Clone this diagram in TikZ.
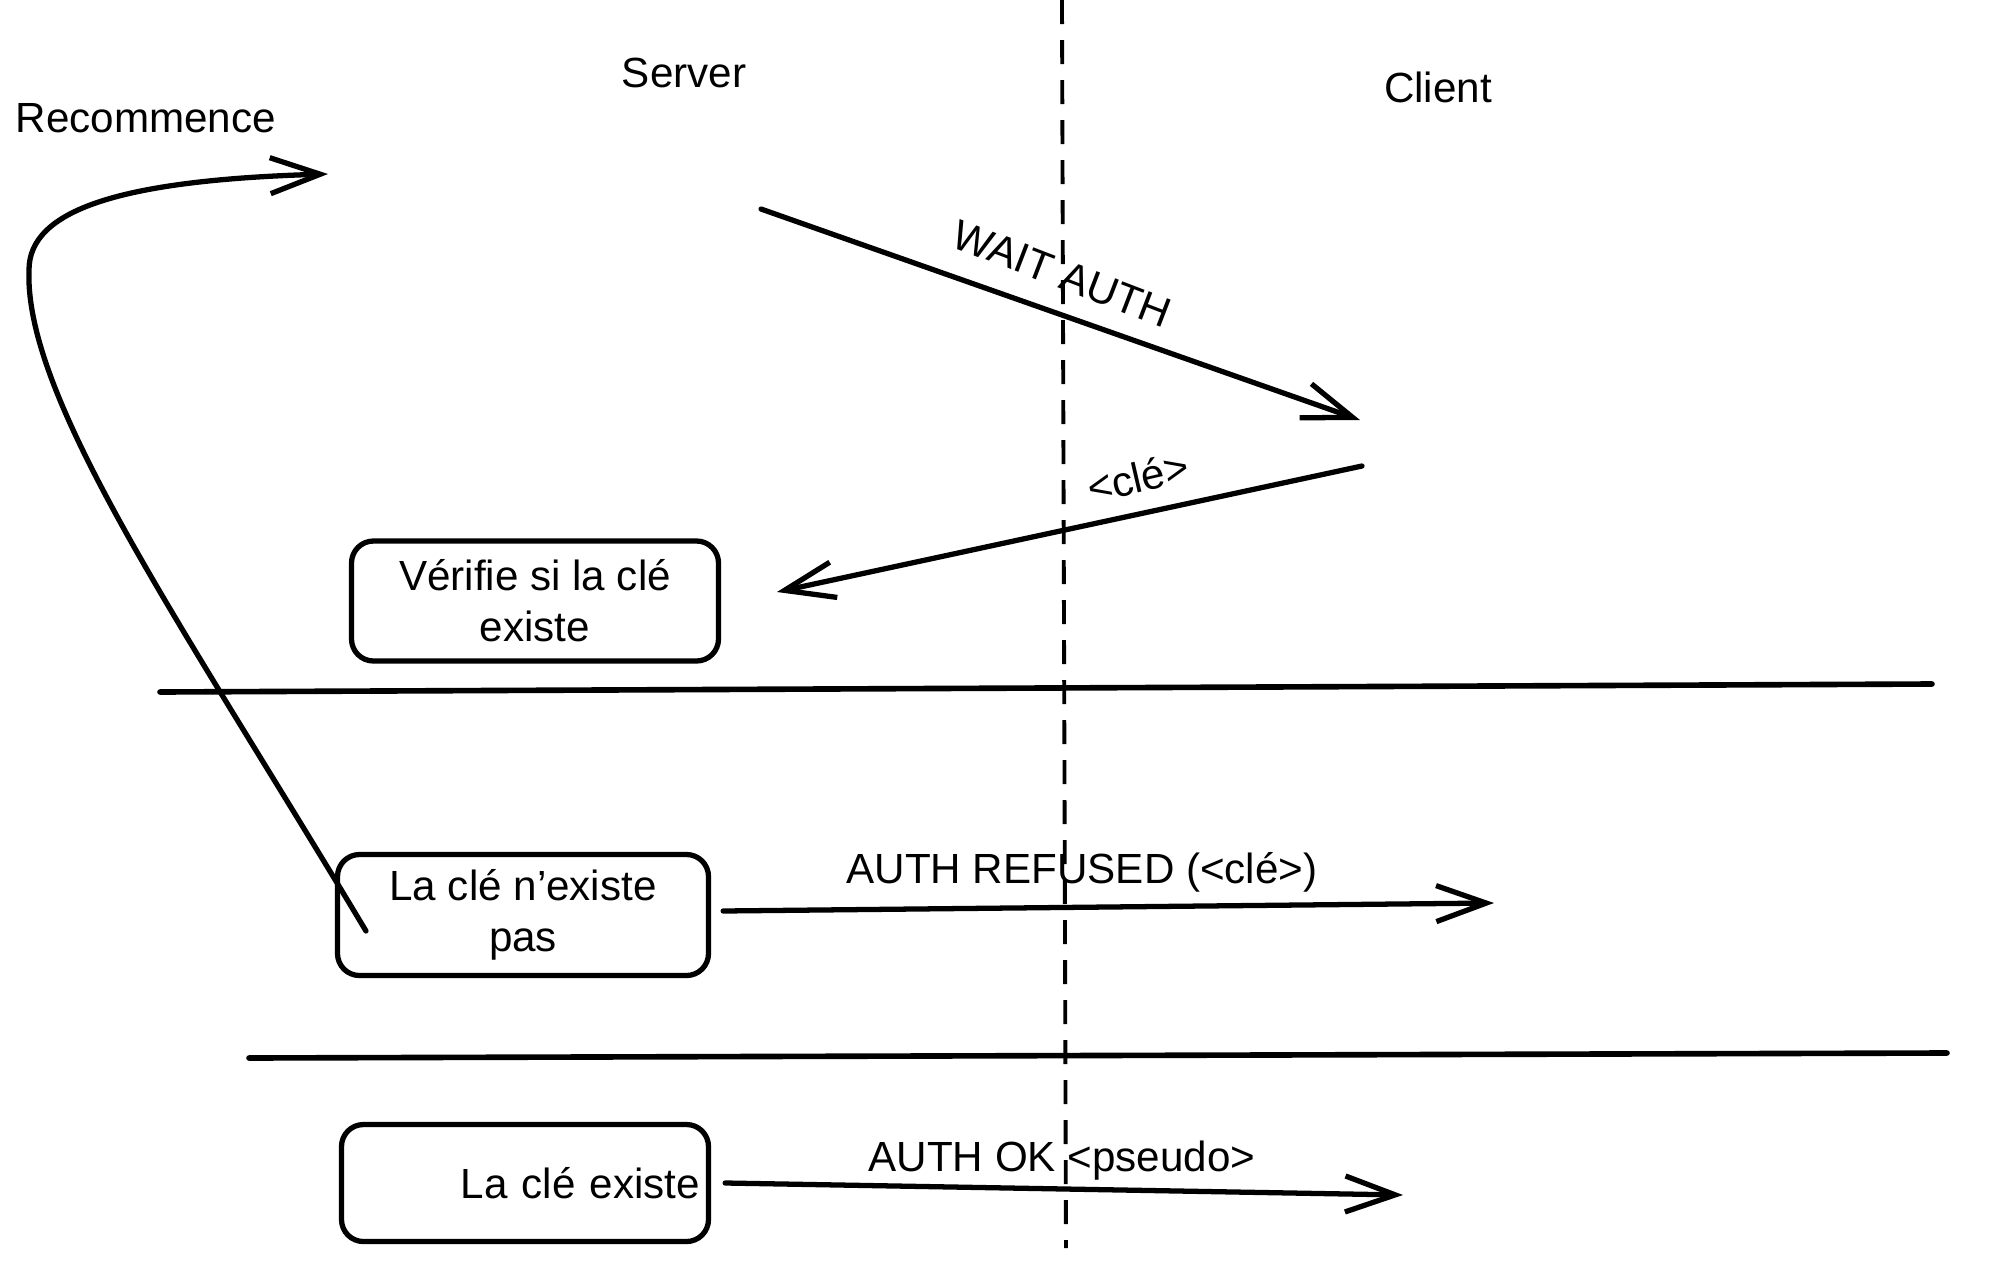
\documentclass[tikz,border=0pt]{standalone}
\usepackage{fontspec}
\setmainfont{Liberation Sans}
\usetikzlibrary{arrows.meta}

\begin{document}
\begin{tikzpicture}[scale=0.2]
            \tikzstyle{every node}+=[inner sep=0pt, font=\fontsize{12}{14.5}\selectfont]
            \tikzstyle{box}=[draw=black, line width=1.5pt, rounded corners=2.2mm, align=center]
            \tikzstyle{msg}=[draw=black, line width=1.5pt, line cap=round, -{Straight Barb[length=5mm,width=3.6mm]}]
            \tikzstyle{lane}=[draw=black, line width=1.6pt, line cap=round]
            \useasboundingbox (0,0) rectangle (100.3,-63.1);
            % titres
            \node (server) at (34.2,-3.65) {Server};
            \node (client) at (71.9,-4.35) {Client};
            \node [anchor=west] (recommence) at (0.75,-5.9) {Recommence};
            % separation server / client
            \coordinate (septop) at (53.1,0);
            \coordinate (sepbot) at (53.3,-62.4);
            \draw [black, line width=1.1pt, dash pattern=on 2.4mm off 1.6mm] (septop) -- (sepbot);
            % boites
            \node [box, minimum width=3.67cm, minimum height=1.2cm] (verif) at (26.75,-30.05) {V\'erifie si la cl\'e\\existe};
            \node [box, minimum width=3.71cm, minimum height=1.21cm] (noexist) at (26.15,-45.75) {La cl\'e n'existe\\pas};
            \node [box, minimum height=1.17cm, text width=3.5cm, inner xsep=0.085cm, align=right] (exist) at (26.25,-59.15) {La cl\'e existe};
            % lignes
            \coordinate (l1a) at (8,-34.6);
            \coordinate (l1b) at (96.6,-34.2);
            \draw [lane] (l1a) -- (l1b);
            \coordinate (l2a) at (12.45,-52.9);
            \coordinate (l2b) at (97.35,-52.65);
            \draw [lane] (l2a) -- (l2b);
            % messages
            \coordinate (wait0) at (38.05,-10.45);
            \coordinate (wait1) at (68,-21);
            \draw [msg] (wait0) -- (wait1);
            \node [rotate=-21] (lwait) at (53.1,-13.7) {WAIT AUTH};
            \coordinate (key0) at (68.1,-23.3);
            \coordinate (key1) at (38.85,-29.6);
            \draw [msg] (key0) -- (key1);
            \node [rotate=13] (lkey) at (56.9,-23.85) {<cl\'e>};
            \coordinate (ref1) at (74.7,-45.15);
            \draw [msg] (noexist.east) ++(0.6,0.2) -- (ref1);
            \node (lref) at (54.1,-43.6) {AUTH REFUSED (<cl\'e>)};
            \coordinate (ok1) at (70.15,-59.75);
            \draw [msg] (exist.east) ++(0.7,0) -- (ok1);
            \node (lok) at (53.1,-58.05) {AUTH OK <pseudo>};
            % retour
            \coordinate (retry0) at (18.3,-46.55);
            \coordinate (retry1) at (16.4,-8.7);
            \draw [msg] (retry0) .. controls (9.3,-31.5) and (1.2,-20) .. (1.45,-13.5)
                .. controls (1.45,-10.5) and (6,-9) .. (retry1);
        \end{tikzpicture}
\end{document}
